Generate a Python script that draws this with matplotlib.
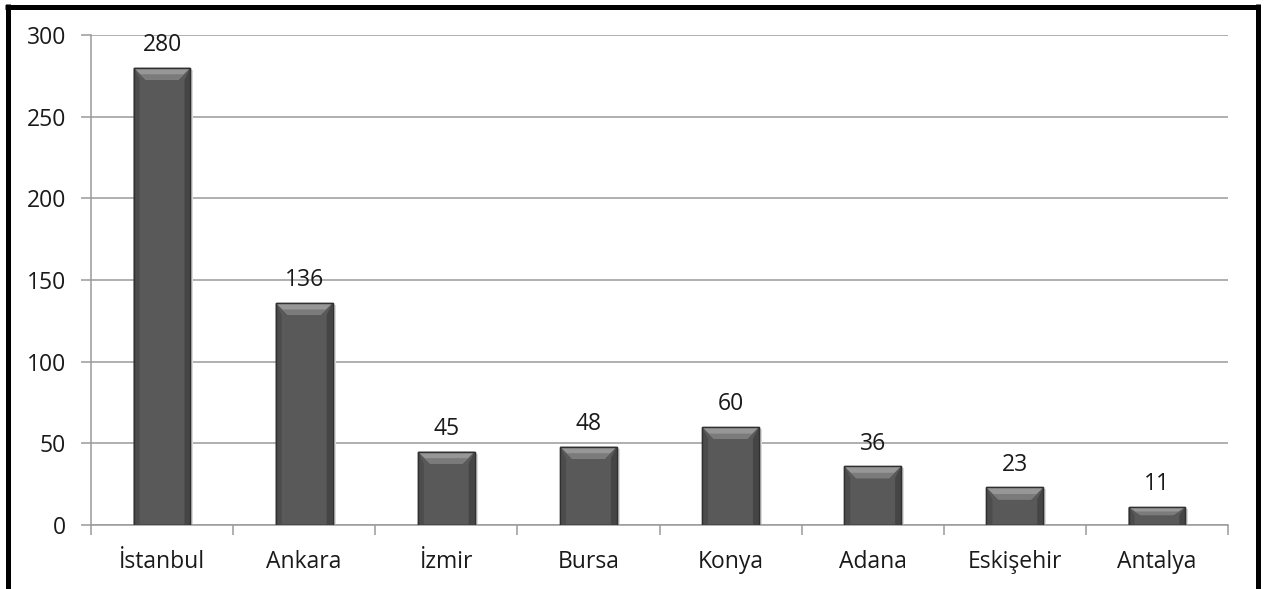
import matplotlib
matplotlib.use("Agg")
import matplotlib.pyplot as plt
from matplotlib.patches import Polygon, Rectangle
from matplotlib.lines import Line2D

# Data
cities = ["İstanbul", "Ankara", "İzmir", "Bursa", "Konya", "Adana", "Eskişehir", "Antalya"]
counts = [280, 136, 45, 48, 60, 36, 23, 11]
y_ticks = [0, 50, 100, 150, 200, 250, 300]

plt.rcParams["font.family"] = ["Open Sans", "DejaVu Sans"]

W, H, DPI = 1267, 589, 100
fig = plt.figure(figsize=(W / DPI, H / DPI), dpi=DPI, facecolor="white")
ax = fig.add_axes([91 / W, 1 - 525 / H, (1228 - 91) / W, (525 - 35) / H])

grid_col = "#9a9a9a"
text_col = "#1a1a1a"
fs = 16.5
ax.set_ylim(0, 300)
ax.set_xlim(-0.5, len(cities) - 0.5)
ax.set_yticks(y_ticks)
ax.yaxis.grid(True, color=grid_col, linewidth=1.1)
ax.set_axisbelow(True)
for side in ("top", "right"):
    ax.spines[side].set_visible(False)
for side in ("left", "bottom"):
    ax.spines[side].set_color(grid_col)
    ax.spines[side].set_linewidth(1.1)

ax.tick_params(axis="y", length=7, width=1.1, color=grid_col, pad=11,
               labelsize=fs, labelcolor=text_col)
# x ticks sit between categories, labels at category centres
ax.set_xticks([i - 0.5 for i in range(len(cities) + 1)])
ax.set_xticklabels([])
ax.set_xticks(range(len(cities)), minor=True)
ax.set_xticklabels(cities, minor=True)
ax.tick_params(axis="x", which="major", length=7, width=1.1, color=grid_col)
ax.tick_params(axis="x", which="minor", length=0, pad=18,
               labelsize=fs, labelcolor=text_col)

bars = ax.bar(range(len(cities)), counts, width=0.40, color="#595959",
              edgecolor="#353535", linewidth=1.0, zorder=3)

# bevel decoration, sized in pixels and converted to data units
px_per_x = ax.get_window_extent().width / (len(cities))
px_per_y = ax.get_window_extent().height / 300.0
for b, v in zip(bars, counts):
    x0, w, h = b.get_x(), b.get_width(), b.get_height()
    x1 = x0 + w
    dx = 12 / px_per_x
    dy = min(12 / px_per_y, h * 0.45)
    # soft shadow on the right
    ax.add_patch(Rectangle((x1, 0), 3 / px_per_x, h - 2 / px_per_y,
                           facecolor="#dadada", edgecolor="none", zorder=2))
    # side shading
    ax.add_patch(Polygon([(x0, 0), (x0, h), (x0 + dx * 0.5, h - dy), (x0 + dx * 0.5, 0)],
                         closed=True, facecolor="#4c4c4c", edgecolor="none", zorder=4))
    ax.add_patch(Polygon([(x1, 0), (x1, h), (x1 - dx * 0.5, h - dy), (x1 - dx * 0.5, 0)],
                         closed=True, facecolor="#454545", edgecolor="none", zorder=4))
    # top bevel, lighter towards the edge
    ax.add_patch(Polygon([(x0, h), (x1, h), (x1 - dx, h - dy), (x0 + dx, h - dy)],
                         closed=True, facecolor="#979797", edgecolor="none", zorder=4))
    ax.add_patch(Polygon([(x0 + dx * 0.55, h - dy * 0.55), (x1 - dx * 0.55, h - dy * 0.55),
                          (x1 - dx, h - dy), (x0 + dx, h - dy)],
                         closed=True, facecolor="#7b7b7b", edgecolor="none", zorder=4))
    ax.add_patch(Rectangle((x0, 0), w, h, facecolor="none", edgecolor="#303030",
                           linewidth=1.0, zorder=5))
    ax.annotate(str(v), (x0 + w / 2, h), xytext=(0, 12), textcoords="offset points",
                ha="center", va="baseline", fontsize=fs, color=text_col, zorder=6)

# outer black frame (open at the bottom)
lw = 5 * 72 / DPI
fx = lambda p: p / W
fy = lambda p: 1 - p / H
fig.add_artist(Line2D([fx(7.5), fx(7.5)], [fy(4), 0], color="black", linewidth=lw,
                      transform=fig.transFigure, solid_capstyle="butt"))
fig.add_artist(Line2D([fx(5), fx(1260)], [fy(6.5), fy(6.5)], color="black", linewidth=lw,
                      transform=fig.transFigure, solid_capstyle="butt"))
fig.add_artist(Line2D([fx(1257.5), fx(1257.5)], [fy(4), 0], color="black", linewidth=lw,
                      transform=fig.transFigure, solid_capstyle="butt"))

fig.savefig("out.png", dpi=DPI, facecolor="white")
